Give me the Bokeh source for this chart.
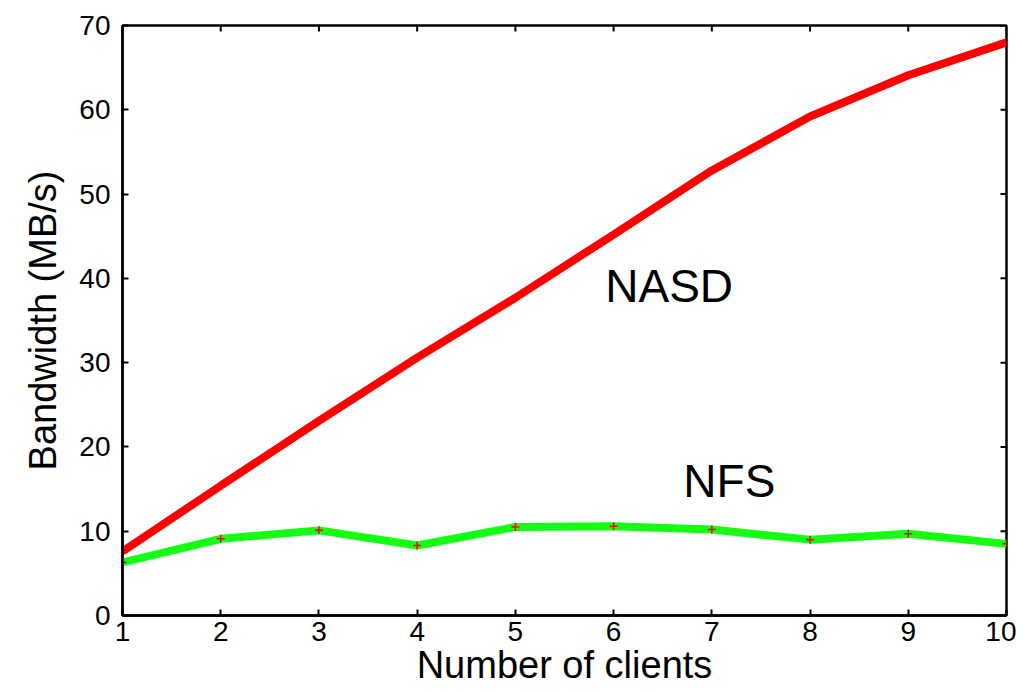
import math
from bokeh.plotting import figure
from bokeh.models import FixedTicker, Range1d, Label
from bokeh.embed import file_html
from bokeh.resources import INLINE

clients = [1, 2, 3, 4, 5, 6, 7, 8, 9, 10]
nasd = [7.6, 15.4, 23.1, 30.6, 37.7, 45.2, 52.8, 59.2, 64.1, 68.0]
nfs = [6.3, 9.1, 10.1, 8.3, 10.5, 10.6, 10.2, 9.0, 9.7, 8.5]
x_ticks = [1, 2, 3, 4, 5, 6, 7, 8, 9, 10]
y_ticks = [0, 10, 20, 30, 40, 50, 60, 70]
labels = ["NASD", "NFS"]
label_x = [5.915, 6.71]
label_y = [39.1, 16.0]

FONT = "Liberation Sans"
X_MIN, X_MAX, Y_MIN, Y_MAX = 1, 10, 0, 70

p = figure(width=1016, height=693, output_backend="svg", toolbar_location=None,
           x_range=Range1d(X_MIN, X_MAX), y_range=Range1d(Y_MIN, Y_MAX),
           x_axis_label="Number of clients", y_axis_label="Bandwidth (MB/s)",
           min_border_left=122, min_border_right=10, min_border_top=25, min_border_bottom=78)
p.grid.visible = False
p.outline_line_color = "black"
p.outline_line_width = 2.5
p.background_fill_color = "white"
p.border_fill_color = "white"

for ax, ticks in ((p.xaxis[0], x_ticks), (p.yaxis[0], y_ticks)):
    ax.ticker = FixedTicker(ticks=ticks)
    ax.major_tick_in = 6
    ax.major_tick_out = 0
    ax.minor_tick_line_color = None
    ax.major_tick_line_width = 2
    ax.axis_line_width = 2.5
    ax.axis_line_color = "black"
    ax.major_tick_line_color = "black"
    ax.major_label_text_font = FONT
    ax.major_label_text_font_size = "28px"
    ax.major_label_text_color = "black"
    ax.axis_label_text_font = FONT
    ax.axis_label_text_font_style = "normal"
    ax.axis_label_text_color = "black"
    ax.axis_label_text_font_size = "38px"

p.xaxis[0].major_label_standoff = 6
p.xaxis[0].axis_label_standoff = 0
p.yaxis[0].major_label_standoff = 12
p.yaxis[0].axis_label_standoff = 12

# mirrored inward ticks on top and right edges (clipped to the frame)
p.scatter(x_ticks, [Y_MAX] * len(x_ticks), marker="dash", angle=math.pi / 2, size=12,
          line_color="black", line_width=2)
p.scatter([X_MAX] * len(y_ticks), y_ticks, marker="dash", size=12,
          line_color="black", line_width=2)

p.line(clients, nasd, line_color="#ff0000", line_width=8)
p.line(clients, nfs, line_color="#14ff14", line_width=8)
p.scatter(clients, nfs, marker="cross", size=8, line_color="#ff0000", line_width=1.5)

for t, lx, ly in zip(labels, label_x, label_y):
    p.add_layout(Label(x=lx, y=ly, text=t, text_font=FONT, text_font_size="46px",
                       text_color="black", text_align="left", text_baseline="alphabetic"))

open("out.html", "w").write(file_html(p, INLINE))
